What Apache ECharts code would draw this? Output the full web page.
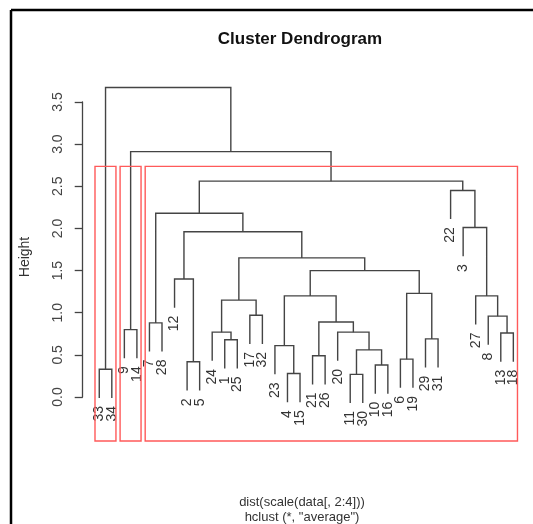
<!DOCTYPE html>
<html>
<head>
<meta charset="utf-8">
<script src="https://cdn.jsdelivr.net/npm/echarts@6/dist/echarts.min.js"></script>
<style>
  html, body { margin: 0; padding: 0; background: #fff; }
  #chart { width: 533px; height: 524px; }
</style>
</head>
<body>
<div id="chart"></div>
<script>
// leaf labels in plotting order (like hclust$order)
var leafOrder = [33, 34, 9, 14, 7, 28, 12, 2, 5, 24, 1, 25, 17, 32, 23, 4, 15, 21, 26, 20, 11, 30, 10, 16, 6, 19, 29, 31, 22, 3, 27, 8, 13, 18]
// merge steps like hclust$merge: negative = observation, positive = earlier step
var mergeA = [-11, -4, -33, -10, -2, -6, -21, 1, -23, -1, -29, -13, -24, -20, -9, -7, 7, -8, -17, 13, 9, -27, 6, -12, 21, 20, 24, -3, 16, -22, 29, 15, 3]
var mergeB = [-30, -15, -34, -16, -5, -19, -26, 4, 2, -25, -31, -18, 10, 8, -14, -28, 14, 12, -32, 19, 17, 18, 11, 5, 23, 25, 26, 22, 27, 28, 30, 31, 32]
var mergeHeight = [0.27, 0.28, 0.33, 0.38, 0.42, 0.45, 0.49, 0.56, 0.61, 0.68, 0.69, 0.76, 0.77, 0.77, 0.80, 0.88, 0.89, 0.96, 0.97, 1.15, 1.20, 1.20, 1.23, 1.40, 1.50, 1.65, 1.96, 2.01, 2.18, 2.45, 2.56, 2.91, 3.67]
// rect.hclust(k = 3): cluster sizes from left to right
var clusterSizes = [2, 2, 30]
var yTicks = ['0.0', '0.5', '1.0', '1.5', '2.0', '2.5', '3.0', '3.5']

var Y_MIN = -0.52
var Y_MAX = 3.83
var hang = 0.1 * (Math.max.apply(null, mergeHeight) - Math.min.apply(null, mergeHeight))

var pos = {}
leafOrder.forEach(function (obs, i) { pos[obs] = i + 1 })

var nodeX = []
var leafEnd = {}
var links = []
function childOf(ref, h) {
  if (ref < 0) {
    leafEnd[-ref] = h - hang
    return [pos[-ref], h - hang]
  }
  return [nodeX[ref - 1], mergeHeight[ref - 1]]
}
mergeHeight.forEach(function (h, i) {
  var a = childOf(mergeA[i], h)
  var b = childOf(mergeB[i], h)
  nodeX.push((a[0] + b[0]) / 2)
  links.push([a[0], a[1], b[0], b[1], h])
})

var leafData = leafOrder.map(function (obs, i) { return [i + 1, leafEnd[obs]] })

var sorted = mergeHeight.slice().sort(function (a, b) { return b - a })
var k = clusterSizes.length
var boxTop = (sorted[k - 2] + sorted[k - 1]) / 2
var boxes = []
var acc = 0
clusterSizes.forEach(function (s) {
  boxes.push([acc + 0.66, acc + s + 0.33, boxTop])
  acc += s
})

var myChart = echarts.init(document.getElementById('chart'))
var font = '"Liberation Sans", Arial, sans-serif'

var option = {
  animation: false,
  grid: [
    { left: 82.7, right: 3.1, top: 74, bottom: 83 },
    { left: 82.7, width: 1, top: 102, bottom: 127 }
  ],
  xAxis: [
    { type: 'value', gridIndex: 0, min: -0.32, max: 35.32, show: false },
    { type: 'value', gridIndex: 1, min: 0, max: 1, show: false }
  ],
  yAxis: [
    { type: 'value', gridIndex: 0, min: Y_MIN, max: Y_MAX, show: false },
    {
      type: 'value',
      gridIndex: 1,
      min: 0,
      max: 3.5,
      interval: 0.5,
      axisLine: { show: true, lineStyle: { color: '#444', width: 1.3 } },
      axisTick: { show: true, length: 8, lineStyle: { color: '#444', width: 1.3 } },
      splitLine: { show: false },
      axisLabel: {
        rotate: 90,
        margin: 18,
        color: '#444',
        fontSize: 14,
        fontFamily: font,
        formatter: function (v) { return yTicks[Math.round(v / 0.5)] }
      }
    }
  ],
  graphic: [
    { type: 'line', shape: { x1: 11, y1: 10, x2: 11, y2: 524 }, style: { stroke: '#000', lineWidth: 2.5 } },
    { type: 'line', shape: { x1: 11, y1: 10, x2: 533, y2: 10 }, style: { stroke: '#000', lineWidth: 2.5 } },
    {
      type: 'text', x: 300, y: 39,
      style: { text: 'Cluster Dendrogram', font: 'bold 17px ' + font, fill: '#111', textAlign: 'center', textVerticalAlign: 'middle' }
    },
    {
      type: 'text', x: 25, y: 257, rotation: Math.PI / 2,
      style: { text: 'Height', font: '14px ' + font, fill: '#333', textAlign: 'center', textVerticalAlign: 'middle' }
    },
    {
      type: 'text', x: 302, y: 502,
      style: { text: 'dist(scale(data[, 2:4]))', font: '13px ' + font, fill: '#333', textAlign: 'center', textVerticalAlign: 'middle' }
    },
    {
      type: 'text', x: 302, y: 517,
      style: { text: 'hclust (*, "average")', font: '13px ' + font, fill: '#333', textAlign: 'center', textVerticalAlign: 'middle' }
    }
  ],
  series: [
    {
      type: 'custom',
      name: 'links',
      xAxisIndex: 0,
      yAxisIndex: 0,
      clip: false,
      data: links,
      renderItem: function (params, api) {
        var a = api.coord([api.value(0), api.value(1)])
        var a2 = api.coord([api.value(0), api.value(4)])
        var b2 = api.coord([api.value(2), api.value(4)])
        var b = api.coord([api.value(2), api.value(3)])
        return {
          type: 'polyline',
          shape: { points: [a, a2, b2, b] },
          style: { stroke: '#444', lineWidth: 1.4, fill: null }
        }
      }
    },
    {
      type: 'custom',
      name: 'labels',
      xAxisIndex: 0,
      yAxisIndex: 0,
      clip: false,
      data: leafData,
      renderItem: function (params, api) {
        var p = api.coord([api.value(0), api.value(1)])
        return {
          type: 'text',
          x: p[0],
          y: p[1] + 8,
          rotation: Math.PI / 2,
          style: {
            text: String(leafOrder[params.dataIndex]),
            font: '14px ' + font,
            fill: '#333',
            textAlign: 'right',
            textVerticalAlign: 'middle'
          }
        }
      }
    },
    {
      type: 'custom',
      name: 'boxes',
      xAxisIndex: 0,
      yAxisIndex: 0,
      clip: false,
      data: boxes,
      renderItem: function (params, api) {
        var tl = api.coord([api.value(0), api.value(2)])
        var br = api.coord([api.value(1), Y_MIN])
        return {
          type: 'rect',
          shape: { x: tl[0], y: tl[1], width: br[0] - tl[0], height: br[1] - tl[1] },
          style: { stroke: '#ff5a5a', lineWidth: 1.4, fill: null }
        }
      }
    }
  ]
}

myChart.setOption(option)
window.addEventListener('resize', function () { myChart.resize() })
</script>
</body>
</html>
